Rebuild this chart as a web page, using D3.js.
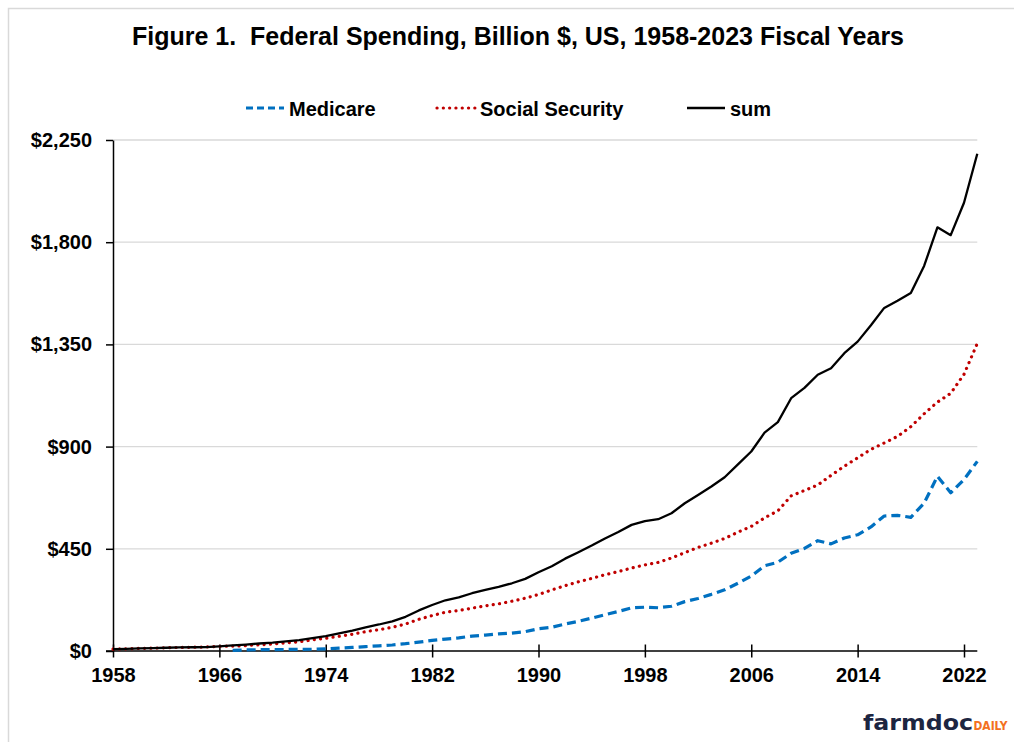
<!DOCTYPE html>
<html>
<head>
<meta charset="utf-8">
<script src="https://cdn.jsdelivr.net/npm/d3@7"></script>
<style>
  html, body { margin: 0; padding: 0; background: #fff; }
  svg { display: block; font-family: Arial, "Liberation Sans", sans-serif; }
</style>
</head>
<body>
<svg id="chart" width="1014" height="742"></svg>
<script>
// ---------- data ----------
const years = d3.range(1958, 2024);
const socialSecurity = [
  8.2, 9.7, 11.6, 12.5, 14.4, 15.8, 16.6, 17.5, 20.7, 21.7,
  23.9, 27.3, 30.3, 35.9, 40.2, 49.1, 55.9, 64.7, 73.9, 85.1,
  93.9, 104.1, 118.5, 139.6, 156.0, 170.7, 178.2, 188.6, 198.8, 207.4,
  219.3, 232.5, 248.6, 269.0, 287.6, 304.6, 319.6, 335.8, 349.7, 365.3,
  379.2, 390.0, 409.4, 433.0, 456.0, 474.7, 495.5, 523.3, 548.5, 586.2,
  617.0, 683.0, 706.7, 730.8, 773.3, 813.6, 850.5, 887.8, 916.1, 944.9,
  987.8, 1044.4, 1095.8, 1134.6, 1218.5, 1354.3
];
const medicareYears = d3.range(1967, 2024);
const medicare = [
  2.7, 4.6, 5.7, 6.2, 6.6, 7.5, 7.8, 9.6, 12.9, 15.8,
  19.3, 22.8, 26.5, 32.1, 39.1, 46.6, 52.6, 57.5, 65.8, 70.2,
  75.1, 78.9, 85.0, 98.1, 104.5, 119.0, 130.6, 144.7, 159.9, 174.2,
  190.0, 192.8, 190.4, 197.1, 217.4, 230.9, 249.4, 269.4, 298.6, 329.9,
  375.4, 390.8, 430.1, 451.6, 485.7, 471.8, 497.8, 511.7, 546.2, 594.5,
  597.3, 588.7, 650.9, 769.6, 696.5, 755.1, 835.0
];
const sumSeries = [
  8.2, 9.7, 11.6, 12.5, 14.4, 15.8, 16.6, 17.5, 20.7, 24.4,
  28.5, 33.0, 36.5, 42.5, 47.7, 56.9, 65.5, 77.6, 89.7, 104.4,
  116.7, 130.6, 150.6, 178.7, 202.6, 223.3, 235.7, 254.4, 269.0, 282.5,
  298.2, 317.5, 346.7, 373.5, 406.6, 435.2, 464.3, 495.7, 523.9, 555.3,
  572.0, 580.4, 606.5, 650.4, 686.9, 724.1, 764.9, 821.9, 878.4, 961.6,
  1007.8, 1113.1, 1158.3, 1216.5, 1245.1, 1311.4, 1362.2, 1434.0, 1510.6, 1542.2,
  1576.5, 1695.3, 1865.4, 1831.1, 1973.6, 2189.3
];
const yTicks = [0, 450, 900, 1350, 1800, 2250];
const xTicks = [1958, 1966, 1974, 1982, 1990, 1998, 2006, 2014, 2022];
const titleText = "Figure 1.  Federal Spending, Billion $, US, 1958-2023 Fiscal Years";
const legendLabels = ["Medicare", "Social Security", "sum"];

(function () {
// ---------- layout ----------
const svg = d3.select("#chart");
const mLeft = 113, mRight = 977.3, mTop = 140, mBottom = 651;

const x = d3.scaleLinear().domain([1958, 2023]).range([mLeft, mRight]);
const y = d3.scaleLinear().domain([0, 2250]).range([mBottom, mTop]);

// outer border
svg.append("rect")
  .attr("x", 8.5).attr("y", 8.5).attr("width", 1020).attr("height", 760)
  .attr("fill", "none").attr("stroke", "#d9d9d9").attr("stroke-width", 1.5);

// title
svg.append("text")
  .attr("x", 518).attr("y", 45)
  .attr("text-anchor", "middle")
  .style("white-space", "pre")
  .attr("font-size", 25).attr("font-weight", "bold").attr("fill", "#000")
  .text(titleText);

// gridlines
svg.append("g").selectAll("line").data(yTicks.filter(d => d > 0)).join("line")
  .attr("x1", mLeft).attr("x2", mRight)
  .attr("y1", d => y(d)).attr("y2", d => y(d))
  .attr("stroke", "#d9d9d9").attr("stroke-width", 1.3);

// y axis
const yAxis = svg.append("g").attr("transform", `translate(${mLeft},0)`)
  .call(d3.axisLeft(y).tickValues(yTicks).tickSize(7).tickSizeOuter(0)
    .tickPadding(14).tickFormat(d => "$" + d3.format(",")(d)));
yAxis.select(".domain").attr("stroke", "#000").attr("stroke-width", 1.5);
yAxis.selectAll(".tick line").attr("stroke", "#000").attr("stroke-width", 1.5);
yAxis.selectAll(".tick text").attr("font-size", 20).attr("font-weight", "bold")
  .attr("fill", "#000").attr("font-family", "Arial, 'Liberation Sans', sans-serif");

// x axis
const xAxis = svg.append("g").attr("transform", `translate(0,${mBottom})`)
  .call(d3.axisBottom(x).tickValues(xTicks).tickSize(6.5).tickSizeOuter(0)
    .tickFormat(d3.format("d")));
xAxis.select(".domain").attr("stroke", "#000").attr("stroke-width", 1.5)
  .attr("d", `M${mLeft - 7},0H${mRight}`);
xAxis.selectAll(".tick line").attr("y1", -6.5).attr("y2", 6.5)
  .attr("stroke", "#000").attr("stroke-width", 1.5);
xAxis.selectAll(".tick text").attr("y", 31).attr("dy", 0)
  .attr("font-size", 20).attr("font-weight", "bold").attr("fill", "#000")
  .attr("font-family", "Arial, 'Liberation Sans', sans-serif");

// lines
const line = d3.line().x(d => x(d[0])).y(d => y(d[1]));
const styles = [
  { color: "#0070c0", width: 3.2, dash: "9,5", cap: "butt" },
  { color: "#c00000", width: 3.2, dash: "0.1,6.2", cap: "round" },
  { color: "#000000", width: 2.3, dash: null, cap: "butt" }
];
const seriesData = [
  d3.zip(medicareYears, medicare),
  d3.zip(years, socialSecurity),
  d3.zip(years, sumSeries)
];
seriesData.forEach((data, i) => {
  const s = styles[i];
  svg.append("path").datum(data)
    .attr("d", line)
    .attr("fill", "none")
    .attr("stroke", s.color)
    .attr("stroke-width", s.width)
    .attr("stroke-linecap", s.cap)
    .attr("stroke-linejoin", "round")
    .attr("stroke-dasharray", s.dash);
});

// legend
const legendX = [246, 437, 687];
const lg = svg.append("g");
legendLabels.forEach((lab, i) => {
  const s = styles[i];
  lg.append("line")
    .attr("x1", legendX[i]).attr("x2", legendX[i] + 38)
    .attr("y1", 108).attr("y2", 108)
    .attr("stroke", s.color).attr("stroke-width", s.width)
    .attr("stroke-linecap", s.cap)
    .attr("stroke-dasharray", i === 0 ? "7,4" : s.dash);
  lg.append("text")
    .attr("x", legendX[i] + 43).attr("y", 115.5)
    .attr("font-size", 20).attr("font-weight", "bold").attr("fill", "#000")
    .text(lab);
});

// logo
const logo = svg.append("text").attr("y", 730).attr("font-weight", "bold")
  .attr("font-family", "'DejaVu Sans', Verdana, sans-serif");
logo.append("tspan").attr("x", 863).attr("font-size", 21).attr("fill", "#1c2541")
  .attr("textLength", 110).attr("lengthAdjust", "spacingAndGlyphs").text("farmdoc");
logo.append("tspan").attr("x", 973.5).attr("font-size", 13).attr("fill", "#f37021")
  .attr("textLength", 34).attr("lengthAdjust", "spacingAndGlyphs").text("DAILY");
})();
</script>
</body>
</html>
